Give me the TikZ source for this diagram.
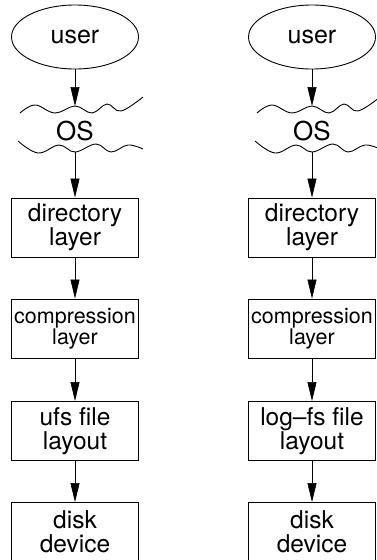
\documentclass[tikz,border=0pt]{standalone}
\usepackage{fontspec}
\setmainfont{TeX Gyre Heros}
\usetikzlibrary{arrows.meta,shapes.geometric}

\begin{document}
\begin{tikzpicture}[x=1pt,y=-1pt,
  layerbox/.style={draw, line width=0.9pt, minimum width=127pt, minimum height=59pt,
    inner sep=0pt, align=center, font=\fontsize{24.5}{24}\selectfont},
  smallbox/.style={layerbox, font=\fontsize{21.5}{21}\selectfont},
  userell/.style={draw, ellipse, line width=0.9pt, minimum width=127pt,
    minimum height=64pt, inner sep=0pt, font=\fontsize{25}{25}\selectfont},
  ostext/.style={inner sep=0pt, font=\fontsize{26}{26}\selectfont},
  wave/.style={line width=0.9pt},
  flow/.style={line width=0.6pt, -{Triangle[length=19pt,width=9pt]}}
]
\useasboundingbox (0,0) rectangle (377,560);

% two file-system stacks, identical except for the file layout layer
\foreach \c/\s/\fl in {75/L/ufs file,312/R/log--fs file}{
  \begin{scope}[xshift=\c]
    \node[userell] (user\s) at (0,37) {user};

    % wavy boundaries of the OS layer
    \draw[wave] plot[smooth, tension=0.65] coordinates
      {(-55,113) (-40,105) (-20,113) (0,106) (17,113) (32,104) (46,111) (68,97)};
    \draw[wave] plot[smooth, tension=0.65] coordinates
      {(-57,141) (-37,153) (-16,145) (0,152) (21,144) (36,152) (53,145) (68,149)};
    \coordinate (ostop\s) at (0,106);
    \coordinate (osbot\s) at (0,152);
    \node[ostext] (os\s) at (0,131) {OS};

    \node[layerbox] (dir\s)  at (0,227.5) {directory\\layer};
    \node[smallbox] (comp\s) at (0,328.5) {compression\\layer};
    \node[layerbox] (file\s) at (0,431)   {\fl\\layout};
    \node[layerbox] (disk\s) at (0,532)   {disk\\device};

    \draw[flow] (user\s.south) -- (ostop\s);
    \draw[flow] (osbot\s) -- (dir\s.north);
    \draw[flow] (dir\s.south) -- (comp\s.north);
    \draw[flow] (comp\s.south) -- (file\s.north);
    \draw[flow] (file\s.south) -- (disk\s.north);
  \end{scope}
}
\end{tikzpicture}
\end{document}
